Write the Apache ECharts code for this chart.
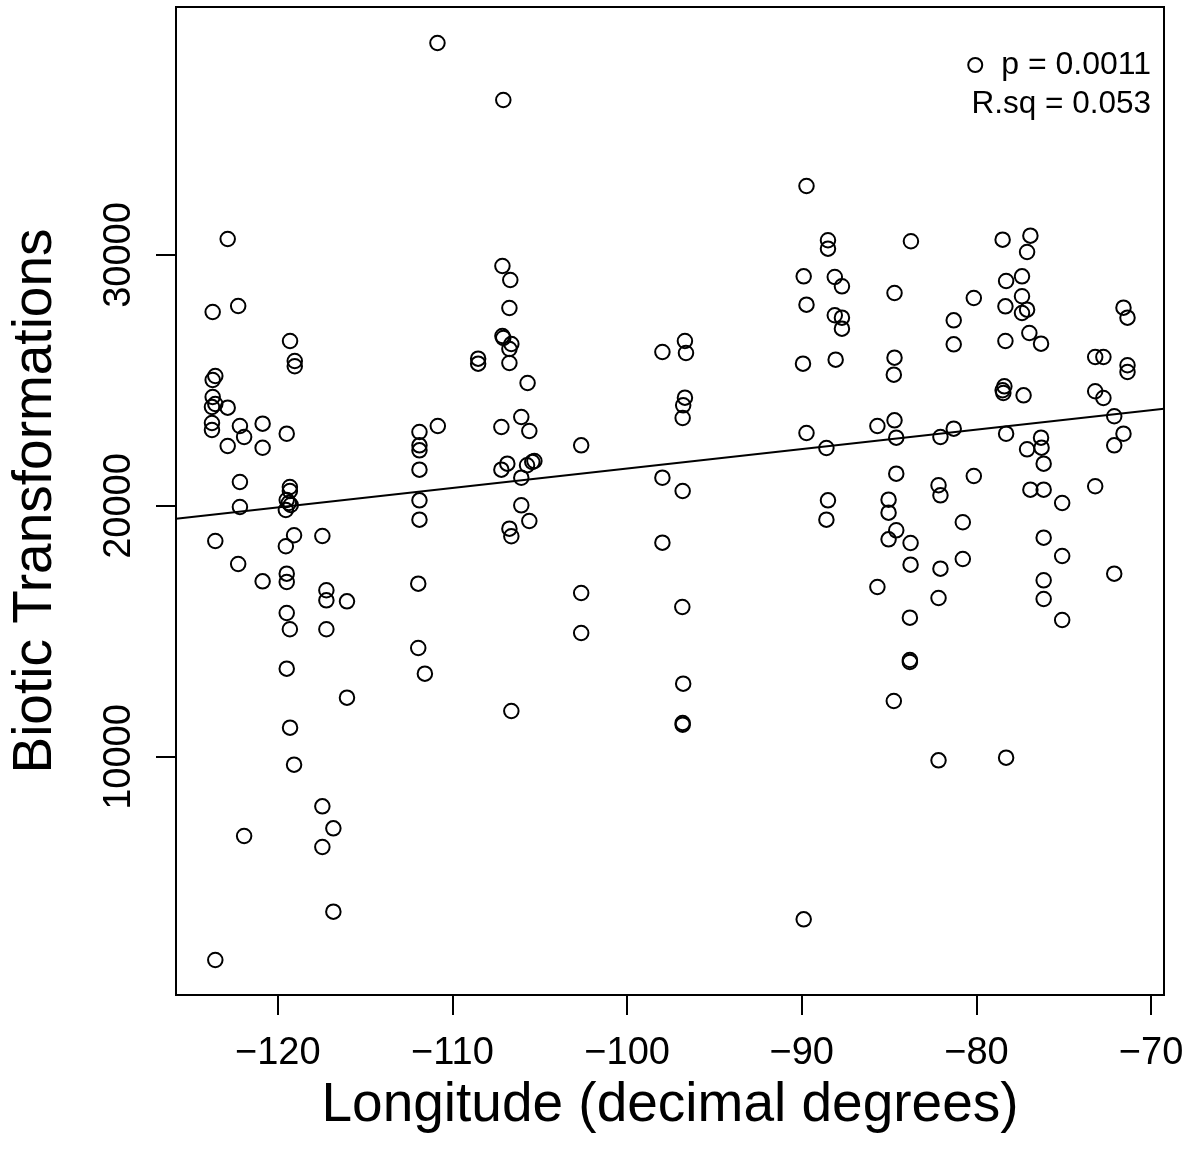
<!DOCTYPE html>
<html>
<head>
<meta charset="utf-8">
<script src="https://cdn.jsdelivr.net/npm/echarts@6/dist/echarts.min.js"></script>
<style>
  html, body { margin: 0; padding: 0; background: #fff; }
  #chart { width: 1187px; height: 1156px; }
</style>
</head>
<body>
<div id="chart"></div>
<script>
// 经度 (x) 与 生物转化 (y), 按列从左到右读取
var longitude = [
  -123.73,-123.58,-123.73,-123.73,-123.58,-123.77,-123.77,-123.77,-123.58,-123.58,
  -122.87,-122.87,-122.87,
  -122.27,-122.17,-121.93,-122.17,-122.17,-122.27,-121.93,
  -120.87,-120.87,-120.87,
  -119.30,-119.03,-119.03,-119.49,-119.31,-119.31,-119.49,-119.37,-119.26,-119.54,-119.07,-119.54,-119.49,-119.49,-119.49,-119.31,-119.49,-119.30,-119.07,
  -117.45,-117.22,-117.22,-117.22,-117.45,-116.82,-117.45,-116.82,
  -116.04,-116.04,
  -111.89,-111.89,-111.89,-111.89,-111.89,-111.89,-111.96,-111.96,-111.58,
  -110.86,-110.84,
  -108.53,-108.53,
  -107.09,-107.14,-106.69,-106.74,-107.14,-107.09,-106.63,-106.74,-106.74,-107.20,-106.86,-107.20,-106.74,-106.63,-106.63,
  -105.70,-106.06,-105.60,-105.73,-105.43,-105.31,-106.06,-106.06,-105.60,
  -102.63,-102.63,-102.63,
  -97.98,-97.98,-97.98,
  -96.69,-96.63,-96.69,-96.79,-96.82,-96.82,-96.84,-96.79,-96.82,-96.82,
  -89.73,-89.89,-89.73,-89.93,-89.73,-89.89,
  -88.50,-88.50,-88.59,-88.50,-88.59,
  -88.11,-87.70,-88.11,-87.70,-87.70,-88.06,
  -85.67,-85.67,
  -84.69,-84.69,-84.73,-84.69,-84.59,-84.59,-85.03,-85.03,-84.59,-85.03,-84.73,
  -83.75,-83.77,-83.77,-83.81,-83.81,-83.81,
  -82.06,-82.17,-82.06,-82.06,-82.17,-82.17,
  -81.30,-81.30,-81.30,
  -80.78,-80.78,
  -80.15,-80.15,
  -78.50,-78.30,-78.34,-78.34,-78.40,-78.50,-78.46,-78.30,-78.30,
  -76.91,-77.10,-77.39,-77.39,-77.10,-77.39,-76.97,-77.30,-77.10,-76.91,
  -76.30,-76.30,-76.27,-76.15,-76.15,-76.15,-76.15,-76.15,
  -75.09,-75.09,-75.09,
  -73.20,-72.73,-73.20,-72.73,-73.20,
  -72.11,-72.11,-72.11,
  -71.58,-71.35,-71.35,-71.35,-71.58
];

var transformations = [
  27729,25179,25020,24343,24064,23944,23307,23028,18606,1913,
  30637,23916,22390,
  27968,23187,22749,20956,19960,17690,6853,
  23280,22320,17000,
  26574,25777,25566,22880,20757,20598,20239,20120,20040,19841,18833,18395,17303,16972,15737,15088,13518,11168,9693,
  18805,16642,16243,15088,8036,7159,6415,3837,
  16203,12363,
  22948,22418,22219,21446,20227,19454,16905,14343,13319,
  38446,23187,
  25869,25669,
  36175,29562,29004,27888,26773,26693,26454,26255,25697,23147,21685,21446,19096,18793,11833,
  24900,23546,22988,21622,21753,21793,21127,20028,19402,
  22418,16534,14940,
  26136,21127,18538,
  26574,26096,24315,24012,23506,20598,15976,12921,11355,11287,
  32749,29151,28020,25669,22908,3534,
  30586,30251,22311,20227,19454,
  29124,28753,27598,27502,27064,25829,
  23187,16773,
  28486,25908,25231,23414,22721,21287,20251,19733,19032,18673,12231,
  30546,18526,17662,15550,13865,13785,
  22749,20825,20426,17502,16335,9868,
  27398,26442,23080,
  19351,17889,
  28287,21195,
  30610,28964,27956,26574,24769,24610,24502,22880,9972,
  30769,30120,29151,28355,27821,27689,26892,24410,22259,20649,
  26466,22721,22323,21685,20649,18737,17040,16295,
  20120,18008,15458,
  25936,25936,24570,24303,20785,
  23574,22418,17303,
  27900,27502,25606,25339,22880
];

// 刻度
var xTicks = [-120, -110, -100, -90, -80, -70];
var yTicks = [10000, 20000, 30000];

// 回归线 (截距, 斜率)
var fitIntercept = 29240;
var fitSlope = 77.5;

var xMin = -125.83, xMax = -69.26;
var yMin = 518, yMax = 39880;

var points = longitude.map(function (x, i) { return [x, transformations[i]]; });
var fitLine = [
  [xMin, fitIntercept + fitSlope * xMin],
  [xMax, fitIntercept + fitSlope * xMax]
];

var chart = echarts.init(document.getElementById('chart'));

var option = {
  animation: false,
  backgroundColor: '#fff',
  textStyle: { fontFamily: 'Liberation Sans, Arial, sans-serif' },
  grid: {
    left: 174, right: 23, top: 7, bottom: 161,
    show: true, borderColor: '#000', borderWidth: 2
  },
  legend: {
    right: 36, top: 49, padding: 0,
    itemWidth: 42, itemHeight: 14,
    icon: 'circle',
    selectedMode: false,
    data: [{ name: 'p = 0.0011' }],
    textStyle: { fontSize: 32, color: '#000' }
  },
  graphic: [{
    type: 'text', right: 36, top: 88,
    style: { text: 'R.sq = 0.053', font: '31.5px "Liberation Sans", Arial, sans-serif', fill: '#000' }
  }],
  xAxis: {
    type: 'value', min: xMin, max: xMax,
    axisLine: { show: false },
    splitLine: { show: false },
    axisTick: { show: true, length: 20, customValues: xTicks, lineStyle: { color: '#000', width: 2 } },
    axisLabel: {
      customValues: xTicks, fontSize: 38, color: '#000', margin: 40,
      formatter: function (v) { return String(v).replace('-', '\u2212'); }
    },
    name: 'Longitude (decimal degrees)',
    nameLocation: 'middle', nameGap: 83,
    nameTextStyle: { fontSize: 55, color: '#000' }
  },
  yAxis: {
    type: 'value', min: yMin, max: yMax,
    axisLine: { show: false },
    splitLine: { show: false },
    axisTick: { show: true, length: 20, customValues: yTicks, lineStyle: { color: '#000', width: 2 } },
    axisLabel: {
      customValues: yTicks, fontSize: 38, color: '#000', margin: 37, rotate: 90,
      formatter: function (v) { return String(v); }
    },
    name: 'Biotic Transformations',
    nameLocation: 'middle', nameGap: 113, nameRotate: 90,
    nameTextStyle: { fontSize: 55, color: '#000' }
  },
  series: [
    {
      name: 'p = 0.0011',
      type: 'scatter',
      data: points,
      symbol: 'circle',
      symbolSize: 14.5,
      silent: true,
      itemStyle: { color: 'rgba(0,0,0,0)', borderColor: '#000', borderWidth: 2, opacity: 1 }
    },
    {
      name: 'fit',
      type: 'line',
      data: fitLine,
      symbol: 'none',
      silent: true,
      lineStyle: { color: '#000', width: 2 }
    }
  ]
};

chart.setOption(option);
</script>
</body>
</html>
